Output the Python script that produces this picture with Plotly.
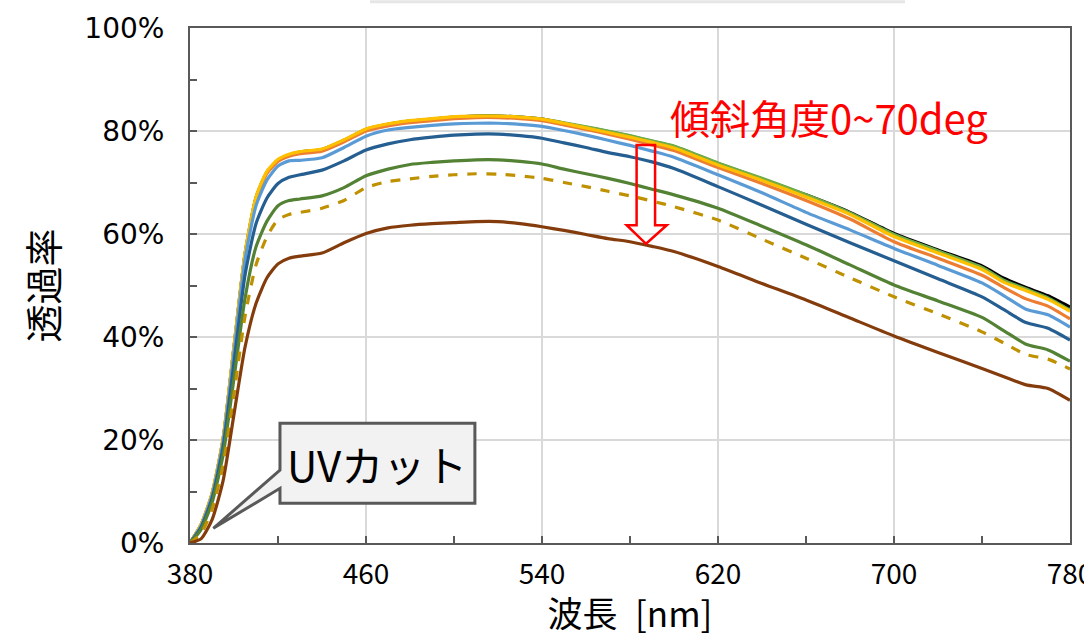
import plotly.graph_objects as go

# Wavelength grid [nm]
wavelength = [380, 385, 390, 395, 400, 405, 410, 415, 420, 425, 430, 440, 450, 460, 470,
              480, 490, 500, 510, 520, 530, 540, 550, 560, 570, 580, 590, 600, 620, 640,
              660, 680, 700, 720, 740, 750, 760, 770, 780]

# Transmittance [%] for each tilt angle
t_black = [0, 3.5, 9.5, 20, 38, 56, 67, 72, 74.3, 75.3, 75.9, 76.4, 78.2, 80.3, 81.3,
           81.9, 82.3, 82.7, 82.9, 82.9, 82.7, 82.3, 81.5, 80.7, 79.9, 79.0, 78.0, 77.0, 73.7, 70.7,
           67.6, 64.2, 60.1, 56.9, 53.8, 51.4, 49.6, 48.0, 45.8]
t_lgreen = [0, 3.5, 9.5, 20, 38, 56, 67, 72, 74.3, 75.3, 75.9, 76.4, 78.2, 80.3, 81.3,
            81.9, 82.3, 82.7, 82.9, 82.9, 82.7, 82.3, 81.6, 80.8, 80.0, 79.1, 78.1, 77.1, 73.8, 70.8,
            67.6, 64.1, 59.9, 56.7, 53.5, 51.0, 49.3, 47.6, 45.2]
t_yellow = [0, 3.6, 9.7, 20.3, 38.3, 56.3, 67.2, 72.2, 74.5, 75.5, 76.0, 76.5, 78.3, 80.4, 81.4,
            82.0, 82.4, 82.8, 82.9, 82.9, 82.7, 82.3, 81.5, 80.6, 79.7, 78.8, 77.8, 76.7, 73.4, 70.4,
            67.2, 63.8, 59.5, 56.3, 53.1, 50.6, 49.0, 47.3, 45.0]
t_orange = [0, 3.5, 9.5, 20, 38, 56, 66.8, 71.8, 74.1, 75.1, 75.6, 76.1, 77.9, 80.0, 81.0,
            81.6, 82.0, 82.4, 82.6, 82.6, 82.4, 82.0, 81.2, 80.3, 79.4, 78.4, 77.3, 76.2, 72.9, 69.8,
            66.5, 62.9, 58.5, 55.3, 52.0, 49.6, 47.4, 46.0, 43.5]
t_lblue = [0, 3.3, 9.2, 19.5, 37, 55, 65.5, 70.5, 73.2, 74.2, 74.3, 74.8, 76.8, 79.0, 80.2,
           80.7, 81.1, 81.4, 81.5, 81.5, 81.3, 80.9, 80.1, 79.2, 78.2, 77.2, 76.1, 74.9, 71.5, 68.0,
           64.2, 60.8, 57.2, 53.9, 50.5, 48.0, 45.4, 44.3, 41.9]
t_dblue = [0, 3, 8.6, 18.5, 35, 52, 62, 67, 69.8, 71.0, 71.5, 72.4, 74.2, 76.3, 77.5,
           78.3, 78.8, 79.2, 79.4, 79.4, 79.1, 78.6, 77.7, 76.8, 75.8, 75.0, 74.0, 72.7, 69.2, 65.6,
           61.9, 58.3, 54.8, 51.3, 47.8, 45.3, 42.8, 41.7, 39.4]
t_mgreen = [0, 2.6, 7.8, 17, 32, 47.5, 57.5, 62.5, 65.5, 66.5, 66.8, 67.4, 69.0, 71.3, 72.6,
            73.5, 73.9, 74.2, 74.4, 74.4, 74.1, 73.6, 72.6, 71.7, 70.8, 69.8, 68.7, 67.6, 65.0, 61.5,
            57.9, 54.0, 50.1, 47.0, 43.8, 41.2, 38.6, 37.5, 35.3]
t_dashed = [0, 1.8, 6.5, 15, 29, 44, 54, 59.5, 62.8, 63.8, 64.2, 65.0, 66.5, 69.0, 70.2,
            70.7, 71.2, 71.5, 71.7, 71.6, 71.3, 70.8, 70.0, 69.2, 68.3, 67.4, 66.4, 65.3, 62.7, 59.0,
            55.3, 51.5, 47.8, 44.5, 41.0, 38.8, 36.6, 35.7, 33.8]
t_brown = [0, 0.8, 4.5, 12, 25, 38, 46.5, 51.5, 54.2, 55.3, 55.7, 56.3, 58.3, 60.1, 61.2,
           61.7, 62.0, 62.2, 62.4, 62.4, 62.0, 61.4, 60.7, 59.9, 59.1, 58.5, 57.6, 56.6, 53.7, 50.4,
           47.2, 43.7, 40.2, 37.0, 33.9, 32.3, 30.7, 30.0, 27.7]

series = [
    (t_black, "#000000", "solid"),
    (t_lgreen, "#70AD47", "solid"),
    (t_orange, "#ED7D31", "solid"),
    (t_yellow, "#FFC000", "solid"),
    (t_lblue, "#5B9BD5", "solid"),
    (t_dblue, "#255E91", "solid"),
    (t_mgreen, "#548235", "solid"),
    (t_dashed, "#BF9000", "dash"),
    (t_brown, "#843C0C", "solid"),
]

x_ticks = [380, 460, 540, 620, 700, 780]
y_ticks = [0, 20, 40, 60, 80, 100]

FONT = "Noto Sans CJK JP"
AXIS = "#595959"
GRID = "#D9D9D9"

fig = go.Figure()
for vals, color, dash in series:
    fig.add_trace(go.Scatter(
        x=wavelength, y=vals, mode="lines",
        line=dict(color=color, width=3.2, dash=dash, shape="spline", smoothing=0.6),
        showlegend=False, hoverinfo="skip",
    ))

fig.update_layout(
    width=1084, height=637,
    margin=dict(l=190, r=14, t=28, b=94, autoexpand=False),
    paper_bgcolor="white", plot_bgcolor="white",
    font=dict(family=FONT, color="#000000"),
    xaxis=dict(
        range=[380, 780], tickvals=x_ticks, ticktext=[str(v) for v in x_ticks],
        showgrid=True, gridcolor=GRID, gridwidth=1.5,
        showline=True, linecolor=AXIS, linewidth=2, mirror=True,
        ticks="inside", ticklen=7, tickcolor=AXIS, tickwidth=1.5,
        minor=dict(dtick=40, tick0=380, ticks="inside", ticklen=7, tickcolor=AXIS, showgrid=False),
        tickfont=dict(size=28, family=FONT), ticklabelstandoff=5,
        ticklabeloverflow="allow", automargin=False,
        title=dict(text="波長\u2002[nm]", font=dict(size=35, family=FONT), standoff=12),
        zeroline=False,
    ),
    yaxis=dict(
        range=[0, 100], tickvals=y_ticks, ticktext=[f"{v}%" for v in y_ticks],
        showgrid=True, gridcolor=GRID, gridwidth=1.5,
        showline=True, linecolor=AXIS, linewidth=2, mirror=True,
        ticks="inside", ticklen=7, tickcolor=AXIS, tickwidth=1.5,
        minor=dict(dtick=10, tick0=0, ticks="inside", ticklen=7, tickcolor=AXIS, showgrid=False),
        tickfont=dict(size=28, family="DejaVu Sans"), ticklabelstandoff=18,
        ticklabeloverflow="allow", automargin=False,
        title=dict(text="透過率", font=dict(size=38, family=FONT), standoff=14),
        zeroline=False,
    ),
)

# Tilt-angle label and downward arrow
fig.add_annotation(
    x=597.3, y=82.7, xref="x", yref="y", text="傾斜角度0~70deg",
    showarrow=False, xanchor="left", yanchor="middle",
    font=dict(size=40, color="#FF0000", family=FONT),
)
arrow_path = ("M 583.0 77.3 L 591.4 77.3 L 591.4 61.7 L 596.7 61.7 "
              "L 587.3 58.1 L 578.5 61.7 L 583.0 61.7 Z")
fig.add_shape(type="path", path=arrow_path, xref="x", yref="y",
              line=dict(color="#FF0000", width=2.5), fillcolor="rgba(0,0,0,0)")

# "UVカット" callout box with pointer
callout_path = ("M 420.9 23.24 L 509.5 23.24 L 509.5 7.71 L 420.9 7.71 "
                "L 420.9 10.62 L 390.6 2.85 L 420.9 14.17 Z")
fig.add_shape(type="path", path=callout_path, xref="x", yref="y",
              line=dict(color="#595959", width=3), fillcolor="#F2F2F2")
fig.add_annotation(
    x=465.2, y=15.5, xref="x", yref="y", text="UVカット",
    showarrow=False, xanchor="center", yanchor="middle",
    font=dict(size=42, color="#000000", family=FONT),
)

# Faint edge of a panel above the plot
fig.add_shape(type="line", xref="paper", yref="paper",
              x0=0.2045, x1=0.8125, y0=1.051, y1=1.051,
              line=dict(color="rgba(200,200,200,0.45)", width=3))

fig.write_html("out.html")
